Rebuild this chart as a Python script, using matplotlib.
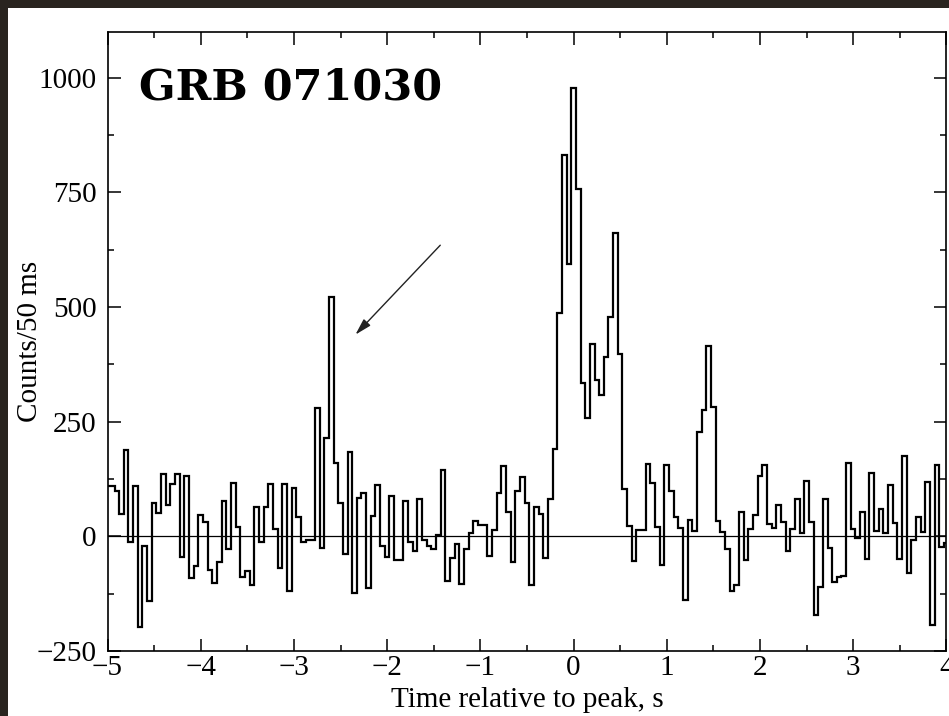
import numpy as np
import matplotlib
matplotlib.use("Agg")
from matplotlib import pyplot as plt
from matplotlib.patches import Rectangle
from matplotlib.ticker import MultipleLocator

# light curve of GRB 071030, 50 ms bins, bin centres from -5.00 s to 4.00 s
t_start = -5.0
bin_width = 0.05
counts = [
    110, 110, 100, 48, 188, -12, 110, -198, -22, -140,
    73, 50, 137, 68, 115, 135, -45, 132, -90, -65,
    46, 32, -73, -101, -57, 77, -28, 117, 21, -88,
    -76, -105, 63, -12, 63, 114, 15, -68, 114, -119,
    106, 42, -12, -9, -7, 281, -25, 215, 523, 161,
    73, -39, 185, -123, 83, 95, -112, 44, 112, -20,
    -44, 88, -52, -52, 77, -12, -33, 81, -9, -21,
    -28, 3, 145, -98, -48, -16, -103, -28, 7, 33,
    25, 25, -43, 13, 95, 154, 53, -55, 100, 130,
    72, -106, 64, 48, -48, 82, 190, 488, 831, 595,
    977, 758, 334, 259, 419, 340, 309, 391, 478, 661,
    398, 104, 23, -53, 13, 14, 157, 117, 21, -63,
    155, 98, 42, 18, -139, 36, 11, 228, 275, 416,
    283, 33, 9, -28, -119, -106, 53, -52, 17, 46,
    132, 155, 26, 19, 68, 32, -32, 15, 81, 8,
    120, 32, -172, -110, 82, -26, -100, -88, -87, 159,
    17, -4, 53, -50, 139, 12, 59, 8, 111, 30,
    -49, 175, -81, -7, 43, 10, 119, -194, 156, -23,
    -14,
]

title = "GRB 071030"
x_label = "Time relative to peak, s"
y_label = "Counts/50 ms"
# arrow pointing at the precursor spike (data coords)
arrow_tail = (-1.43, 635)
arrow_head = (-2.34, 440)

serif = ["Liberation Serif", "DejaVu Serif"]

fig = plt.figure(figsize=(9.49, 7.16), dpi=100, facecolor="#29241f")
# white page with a dark margin on the left and top
fig.patches.append(Rectangle((8 / 949, 0), 1 - 8 / 949, 1 - 8 / 716,
                             transform=fig.transFigure, facecolor="white",
                             edgecolor="none", zorder=-1))

ax = fig.add_axes([0.1133, 0.0908, 0.9972 - 0.1133, 0.9553 - 0.0908])
ax.set_facecolor("white")

edges = t_start - bin_width / 2 + bin_width * np.arange(len(counts) + 1)
ax.stairs(counts, edges, baseline=None, color="black", lw=1.6)
ax.axhline(0, color="black", lw=0.9)

ax.set_xlim(-5, 4)
ax.set_ylim(-250, 1100)
ax.xaxis.set_major_locator(MultipleLocator(1))
ax.xaxis.set_minor_locator(MultipleLocator(0.5))
ax.yaxis.set_major_locator(MultipleLocator(250))
ax.yaxis.set_minor_locator(MultipleLocator(125))
ax.set_yticks([-250, 0, 250, 500, 750, 1000])

ax.tick_params(which="both", direction="in", top=True, right=True, width=1.1)
ax.tick_params(which="major", length=9)
ax.tick_params(which="minor", length=4.5)
ax.tick_params(axis="x", pad=3)
ax.tick_params(axis="y", pad=8)
for lab in ax.get_xticklabels() + ax.get_yticklabels():
    lab.set_family(serif)
    lab.set_fontsize(21)
for sp in ax.spines.values():
    sp.set_linewidth(1.2)

ax.set_xlabel(x_label, family=serif, fontsize=21, labelpad=4)
ax.set_ylabel(y_label, family=serif, fontsize=21, labelpad=-5)

ax.text(0.037, 0.945, title, transform=ax.transAxes, ha="left", va="top",
        family=["DejaVu Serif"], fontweight="bold", fontsize=31)

ax.annotate("", xy=arrow_head, xytext=arrow_tail,
            arrowprops=dict(arrowstyle="-|>,head_length=1.0,head_width=0.28",
                            color="#222222", lw=1.0, shrinkA=0, shrinkB=0))

fig.savefig("out.png", dpi=100, facecolor=fig.get_facecolor())
